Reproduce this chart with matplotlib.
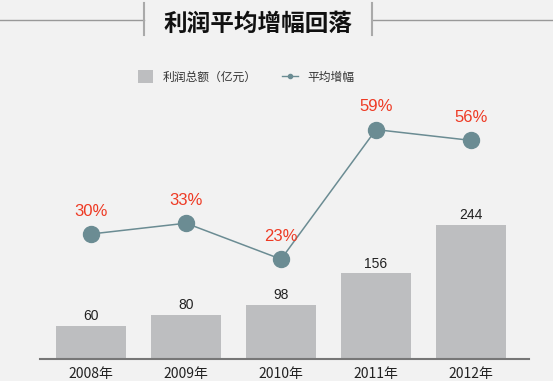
import matplotlib
matplotlib.use("Agg")
import matplotlib.pyplot as plt
from matplotlib.lines import Line2D
from matplotlib.patches import Patch

plt.rcParams['font.family'] = ['Noto Sans CJK SC', 'DejaVu Sans']

years = ["2008年", "2009年", "2010年", "2011年", "2012年"]
profit = [60, 80, 98, 156, 244]
growth = [30, 33, 23, 59, 56]
growth_labels = ["30%", "33%", "23%", "59%", "56%"]

W, H = 553, 381
bg = "#f2f2f2"
fig = plt.figure(figsize=(W / 100, H / 100), dpi=100, facecolor=bg)

# axes placement in pixels
left, right, top_px, base_px = 40, 529, 100, 359
ax = fig.add_axes([left / W, (H - base_px) / H, (right - left) / W, (base_px - top_px) / H])
ax.set_facecolor("none")
x = list(range(len(years)))
bar_scale = 0.549  # px per unit
ax.bar(x, profit, width=0.737, color="#bdbec0", zorder=2)
ax.set_ylim(0, (base_px - top_px) / bar_scale)
ax.set_xlim(-0.537, 4.61)
for xi, v in zip(x, profit):
    ax.annotate(str(v), (xi, v), xytext=(0, 2), textcoords="offset points",
                ha="center", va="bottom", fontsize=10, color="#222222",
                family=["Liberation Sans", "DejaVu Sans"])
for s in ["top", "right", "left"]:
    ax.spines[s].set_visible(False)
ax.spines["bottom"].set_color("#777777")
ax.spines["bottom"].set_linewidth(1.5)
ax.set_yticks([])
ax.set_xticks(x)
ax.set_xticklabels(years, fontsize=10, color="#222222")
ax.tick_params(axis="x", length=0, pad=6)

ax2 = ax.twinx()
ax2.set_facecolor("none")
lscale = 3.6
zero_px = 342
ax2.set_ylim((zero_px - base_px) / lscale, (zero_px - top_px) / lscale)
ax2.plot(x, growth, color="#6b8c93", lw=1.1, marker="o", markersize=11.5,
         markerfacecolor="#6b8c93", markeredgecolor="#6b8c93", zorder=3)
for xi, v, lab in zip(x, growth, growth_labels):
    ax2.annotate(lab, (xi, v), xytext=(0, 11), textcoords="offset points",
                 ha="center", va="bottom", fontsize=12, color="#ee3a24",
                 family=["Liberation Sans", "DejaVu Sans"])
ax2.axis("off")

# Title with decorations
fig.text(258 / W, 1 - 24 / H, "利润平均增幅回落", ha="center", va="center",
         fontsize=17, fontweight="bold", color="#111111")
fig.add_artist(Line2D([0, 144 / W], [1 - 20 / H] * 2, color="#999999", lw=1))
fig.add_artist(Line2D([372 / W, 1], [1 - 20 / H] * 2, color="#999999", lw=1))
fig.add_artist(Line2D([144 / W] * 2, [1 - 3 / H, 1 - 35 / H], color="#aaaaaa", lw=1.5))
fig.add_artist(Line2D([372 / W] * 2, [1 - 3 / H, 1 - 35 / H], color="#aaaaaa", lw=1.5))

# Legend
handles = [Patch(facecolor="#bdbec0", edgecolor="none"),
           Line2D([], [], color="#6b8c93", lw=1, marker="o", markersize=3)]
fig.legend(handles, ["利润总额（亿元）", "平均增幅"], loc="center",
           bbox_to_anchor=(246 / W, 1 - 77 / H), ncol=2, frameon=False,
           fontsize=8.5, handlelength=1.3, handleheight=1.3, columnspacing=2.2,
           handletextpad=0.8, labelcolor="#333333")

fig.savefig("out.png", dpi=100, facecolor=bg)
